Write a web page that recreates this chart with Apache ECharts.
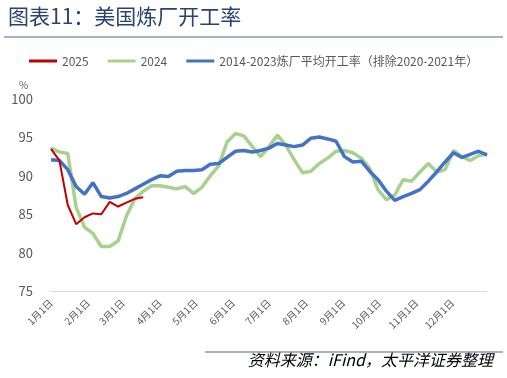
<!DOCTYPE html>
<html>
<head>
<meta charset="utf-8">
<script src="https://cdn.jsdelivr.net/npm/echarts@6/dist/echarts.min.js"></script>
<style>
  html, body { margin: 0; padding: 0; background: #fff; }
  #main { width: 507px; height: 378px; }
</style>
</head>
<body>
<div id="main"></div>
<script>
// weekly readings, week 0 = 1月1日
var data2025 = [93.5, 92.0, 86.2, 83.7, 84.6, 85.1, 85.0, 86.6, 86.0, 86.5, 87.0, 87.2];
var data2024 = [93.6, 93.1, 92.9, 85.9, 83.3, 82.5, 80.8, 80.8, 81.5, 84.8, 87.0, 88.0, 88.7,
    88.7, 88.5, 88.3, 88.6, 87.7, 88.5, 90.0, 91.3, 94.4, 95.5, 95.2, 93.8, 92.5, 93.8,
    95.3, 94.0, 92.1, 90.4, 90.6, 91.6, 92.3, 93.2, 93.3, 93.0, 92.3, 91.0, 88.2,
    86.9, 87.5, 89.5, 89.3, 90.5, 91.6, 90.5, 90.8, 93.3, 92.5, 92.0, 92.6, 92.9];
var dataAvg = [92.1, 92.0, 90.8, 88.6, 87.6, 89.1, 87.3, 87.1, 87.3, 87.7, 88.3, 88.9, 89.5,
    90.0, 89.9, 90.6, 90.7, 90.7, 90.8, 91.5, 91.6, 92.4, 93.2, 93.3, 93.1, 93.3, 93.6,
    94.2, 94.0, 93.8, 94.0, 94.9, 95.05, 94.8, 94.5, 92.5, 91.8, 91.9, 90.6, 89.5,
    88.0, 86.8, 87.3, 87.7, 88.2, 89.3, 90.5, 91.8, 93.0, 92.4, 92.8, 93.2, 92.7];

var monthDays = [0, 31, 60, 91, 121, 152, 182, 213, 244, 274, 305, 335];
var monthLabels = ['1月1日', '2月1日', '3月1日', '4月1日', '5月1日', '6月1日',
    '7月1日', '8月1日', '9月1日', '10月1日', '11月1日', '12月1日'];
var yTicks = [75, 80, 85, 90, 95, 100];

var names = ['2025', '2024', '2014-2023炼厂平均开工率（排除2020-2021年）'];

function toPoints(arr) {
    var out = [];
    for (var i = 0; i < arr.length; i++) {
        out.push([i * 7, arr[i]]);
    }
    return out;
}

var chart = echarts.init(document.getElementById('main'));
var font = '"Noto Sans CJK SC", "Liberation Sans", sans-serif';

var option = {
    animation: false,
    textStyle: { fontFamily: font },
    title: {
        text: '图表11：美国炼厂开工率',
        left: 3,
        top: 1,
        textStyle: { fontSize: 21, fontWeight: 'normal', color: '#2a4272', fontFamily: font }
    },
    graphic: [
        { type: 'line', shape: { x1: 4, y1: 37, x2: 503, y2: 37 }, style: { stroke: '#8a9ab8', lineWidth: 1.5 } },
        { type: 'line', shape: { x1: 205, y1: 352, x2: 503, y2: 352 }, style: { stroke: '#8a9ab8', lineWidth: 1.5 } },
        { type: 'text', left: 19, top: 80, style: { text: '%', fontSize: 10, fill: '#595959', fontFamily: font } },
        { type: 'text', right: 14, top: 352, style: { text: '资料来源：iFind，太平洋证券整理', fontSize: 16, fontStyle: 'italic', fill: '#000', fontFamily: font } }
    ],
    legend: {
        data: names,
        left: 24,
        top: 50,
        icon: 'rect',
        itemWidth: 28,
        itemHeight: 3,
        itemGap: 19,
        textStyle: { fontSize: 12, color: '#595959', fontFamily: font }
    },
    grid: { left: 51, right: 20, top: 99, bottom: 87 },
    xAxis: {
        type: 'value',
        min: 0,
        max: 364,
        axisLine: { show: true, lineStyle: { color: '#d9d9d9', width: 1 } },
        axisTick: { show: false },
        splitLine: { show: false },
        axisLabel: {
            customValues: monthDays,
            rotate: 45,
            fontSize: 10,
            color: '#595959',
            margin: 10,
            formatter: function (v) {
                var k = monthDays.indexOf(v);
                return k >= 0 ? monthLabels[k] : '';
            }
        }
    },
    yAxis: {
        type: 'value',
        min: yTicks[0],
        max: yTicks[yTicks.length - 1],
        interval: 5,
        axisLine: { show: false },
        axisTick: { show: false },
        splitLine: { show: false },
        axisLabel: { fontSize: 13, color: '#595959', margin: 18 }
    },
    series: [
        {
            name: names[1], type: 'line', data: toPoints(data2024), symbol: 'none',
            itemStyle: { color: '#a9d18e' }, lineStyle: { color: '#a9d18e', width: 3.5 }, z: 2
        },
        {
            name: names[2], type: 'line', data: toPoints(dataAvg), symbol: 'none',
            itemStyle: { color: '#4472c4' }, lineStyle: { color: '#4472c4', width: 3.5 }, z: 3
        },
        {
            name: names[0], type: 'line', data: toPoints(data2025), symbol: 'none',
            itemStyle: { color: '#c00000' }, lineStyle: { color: '#c00000', width: 2 }, z: 4
        }
    ]
};

chart.setOption(option);
</script>
</body>
</html>
